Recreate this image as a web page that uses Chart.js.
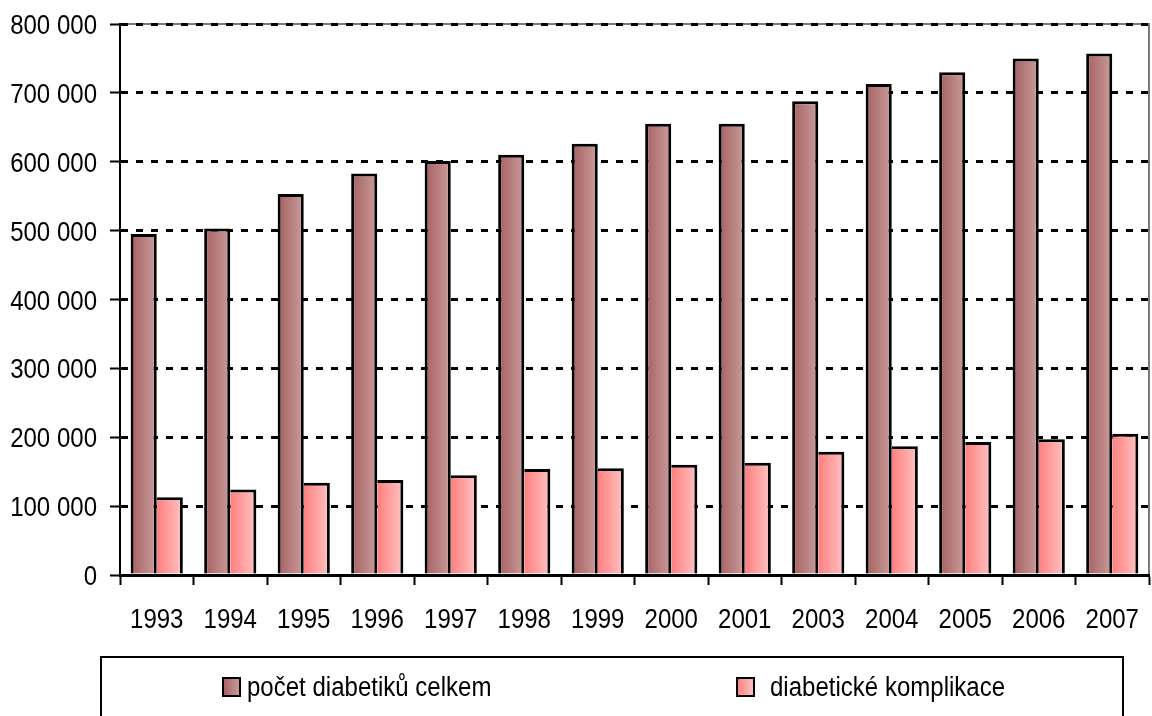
<!DOCTYPE html>
<html>
<head>
<meta charset="utf-8">
<script src="https://cdn.jsdelivr.net/npm/chart.js@4.4.1/dist/chart.umd.min.js"></script>
<style>
html,body{margin:0;padding:0;background:#fff;}
#wrap{width:1152px;height:716px;position:relative;}
</style>
</head>
<body>
<div id="wrap"><canvas id="c" width="1152" height="716"></canvas></div>
<script>
const years = ['1993','1994','1995','1996','1997','1998','1999','2000','2001','2003','2004','2005','2006','2007'];
const totalDiabetics = [495000, 503000, 553000, 583000, 601000, 610000, 626000, 655000, 655000, 688000, 713000, 730000, 750000, 757000];
const complications = [113000, 124000, 134000, 138000, 145000, 154000, 155000, 160000, 163000, 179000, 187000, 193000, 197000, 205000];
const seriesNames = ['počet diabetiků celkem', 'diabetické komplikace'];
const yTicks = [0, 100000, 200000, 300000, 400000, 500000, 600000, 700000, 800000];

const FONT = "'Liberation Sans', Arial, sans-serif";
const FS = 27;
const SX = 0.89; // horizontal condensing to mimic Arial Narrow
const CAT_PCT = 0.71;
const darkStops = ['#a65f60', '#c99d9c'];
const lightStops = ['#ff7f7f', '#ffc4c4'];

function fmt(v){ return String(v).replace(/\B(?=(\d{3})+(?!\d))/g, ' '); }

function narrowText(c, text, x, y, align){
  c.save();
  c.translate(x, y);
  c.scale(SX, 1);
  c.font = FS + 'px ' + FONT;
  c.fillStyle = '#000';
  c.textAlign = align;
  c.textBaseline = 'alphabetic';
  c.fillText(text, 0, 0);
  c.restore();
}

function barGradient(stops, side){
  return (ctx) => {
    const chart = ctx.chart;
    const xs = chart.scales && chart.scales.x;
    if (!xs || ctx.type !== 'data' || !xs.width) return stops[0];
    const cw = xs.width / years.length;
    const bw = cw * CAT_PCT / 2;
    const cx = xs.getPixelForValue(ctx.dataIndex);
    const left = side === 0 ? cx - bw : cx;
    const g = chart.ctx.createLinearGradient(left, 0, left + bw, 0);
    g.addColorStop(0, stops[0]);
    g.addColorStop(1, stops[1]);
    return g;
  };
}

const framePlugin = {
  id: 'frame',
  beforeDraw(chart){
    const a = chart.chartArea; const c = chart.ctx;
    if (!a) return;
    c.save();
    c.strokeStyle = '#7a7a7a';
    c.lineWidth = 2;
    c.beginPath();
    c.moveTo(a.left, a.top);
    c.lineTo(a.right, a.top);
    c.lineTo(a.right, a.bottom);
    c.stroke();
    c.restore();
  },
  afterDraw(chart){
    const c = chart.ctx;
    const xs = chart.scales.x, ys = chart.scales.y;
    // axis tick labels (condensed)
    ys.ticks.forEach(t => {
      const y = ys.getPixelForValue(t.value);
      narrowText(c, fmt(t.value), 97, y + 10, 'right');
    });
    years.forEach((lab, i) => {
      const x = xs.getPixelForValue(i);
      narrowText(c, lab, x, 628, 'center');
    });
    // legend box
    c.save();
    c.strokeStyle = '#000';
    c.lineWidth = 2;
    c.strokeRect(101, 657, 1022, 80);
    const items = [
      {x: 223, stops: darkStops, tx: 247, label: seriesNames[0]},
      {x: 737, stops: lightStops, tx: 770, label: seriesNames[1]}
    ];
    items.forEach(it => {
      const g = c.createLinearGradient(it.x, 0, it.x + 17, 0);
      g.addColorStop(0, it.stops[0]);
      g.addColorStop(1, it.stops[1]);
      c.fillStyle = g;
      c.fillRect(it.x, 678, 17, 18);
      c.strokeStyle = '#000';
      c.lineWidth = 2;
      c.strokeRect(it.x, 678, 17, 18);
      narrowText(c, it.label, it.tx, 696, 'left');
    });
    c.restore();
  }
};

new Chart(document.getElementById('c'), {
  type: 'bar',
  data: {
    labels: years,
    datasets: [
      {
        label: seriesNames[0],
        data: totalDiabetics,
        backgroundColor: barGradient(darkStops, 0),
        borderColor: '#000',
        borderWidth: 3,
        borderSkipped: 'start',
        categoryPercentage: CAT_PCT,
        barPercentage: 1.0
      },
      {
        label: seriesNames[1],
        data: complications,
        backgroundColor: barGradient(lightStops, 1),
        borderColor: '#000',
        borderWidth: {top: 3, right: 3, left: 0, bottom: 0},
        borderSkipped: 'start',
        categoryPercentage: CAT_PCT,
        barPercentage: 1.0
      }
    ]
  },
  options: {
    responsive: false,
    animation: false,
    devicePixelRatio: 1,
    layout: {padding: {top: 24, right: 3, left: 0, bottom: 0}},
    plugins: {
      legend: {display: false},
      tooltip: {enabled: false},
      title: {display: false}
    },
    scales: {
      x: {
        grid: {
          display: true,
          offset: true,
          drawOnChartArea: false,
          drawTicks: true,
          tickLength: 10,
          tickColor: '#000',
          tickWidth: 2
        },
        border: {display: true, color: '#000', width: 3},
        ticks: {display: false},
        afterFit(scale){ scale.height = 141; }
      },
      y: {
        min: 0,
        max: 800000,
        afterBuildTicks(scale){ scale.ticks = yTicks.map(v => ({value: v})); },
        grid: {
          color: '#000',
          lineWidth: 3,
          drawTicks: true,
          tickLength: 10,
          tickColor: '#000',
          tickWidth: 2,
          tickBorderDash: []
        },
        border: {display: true, color: '#000', width: 2, dash: [7, 8]},
        ticks: {display: false},
        afterFit(scale){ scale.width = 120; }
      }
    }
  },
  plugins: [framePlugin]
});
</script>
</body>
</html>
